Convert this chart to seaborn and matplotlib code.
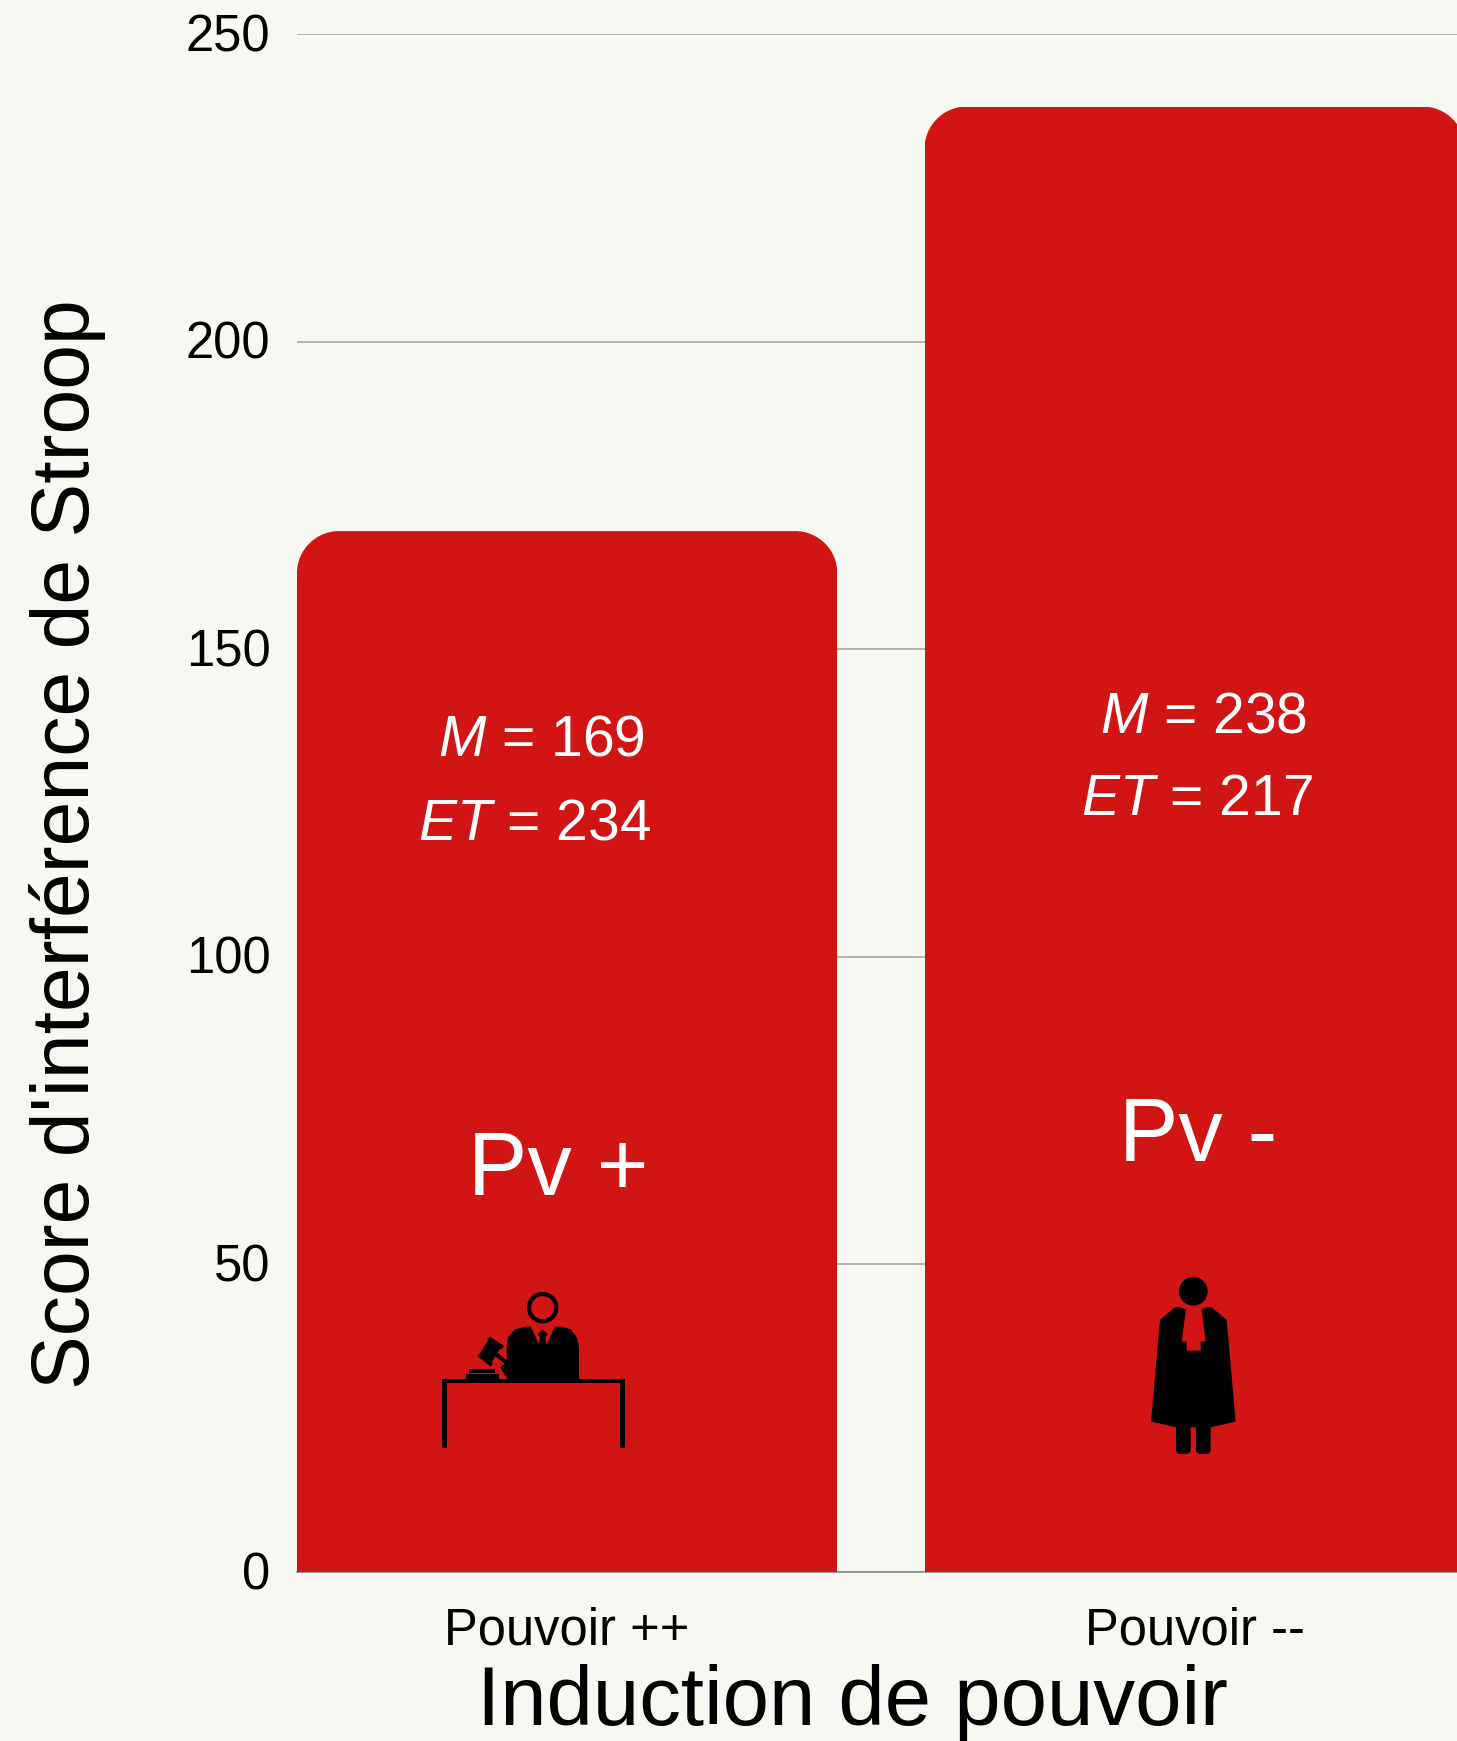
import matplotlib
matplotlib.use("Agg")
import matplotlib.pyplot as plt
import seaborn as sns
import pandas as pd
from matplotlib.patches import Circle, Polygon, FancyBboxPatch
from matplotlib.path import Path
from matplotlib.transforms import Affine2D, ScaledTranslation

# ---- data
conditions = ["Pouvoir ++", "Pouvoir --"]
bar_values = [169.2, 238.2]
mean_labels = [169, 238]
sd_labels = [234, 217]
short_labels = ["Pv +", "Pv -"]
y_ticks = [0, 50, 100, 150, 200, 250]
x_title = "Induction de pouvoir"
y_title = "Score d'interférence de Stroop"

BG = "#F8F8F3"
RED = "#D11515"
GRID = "#B5B5AE"
INK = "#000000"
W, H = 1457, 1741

sns.set_theme(style="whitegrid")
plt.rcParams["font.family"] = ["Liberation Sans", "DejaVu Sans"]
plt.rcParams["mathtext.fontset"] = "custom"
plt.rcParams["mathtext.it"] = "Liberation Sans:italic"
plt.rcParams["mathtext.rm"] = "Liberation Sans"
plt.rcParams["mathtext.default"] = "regular"

fig = plt.figure(figsize=(W / 100, H / 100), dpi=100, facecolor=BG)
ax = fig.add_axes([297 / W, 1 - 1572 / H, 1160 / W, (1572 - 34) / H], facecolor=BG)

df = pd.DataFrame({"cond": conditions, "score": bar_values})
sns.barplot(data=df, x="cond", y="score", color=RED, saturation=1, width=0.861, ax=ax, zorder=3)
ax.set_xlim(-0.4305, 1.4180)
ax.set_ylim(0, 250)
ax.set_yticks(y_ticks)
ax.grid(axis="x", visible=False)
ax.grid(axis="y", color=GRID, lw=1.4)
ax.set_axisbelow(True)
for name, s in ax.spines.items():
    s.set_visible(name == "bottom")
ax.spines["bottom"].set_color("#8A8A85")
ax.spines["bottom"].set_linewidth(1.2)
ax.spines["bottom"].set_zorder(2.5)
ax.tick_params(axis="both", length=0, labelsize=36.5, labelcolor=INK)
ax.tick_params(axis="x", pad=24.5)
ax.tick_params(axis="y", pad=19)
ax.set_xlabel("")
ax.set_ylabel("")
for lab in ax.get_yticklabels():
    lab.set_transform(lab.get_transform() + ScaledTranslation(0, 2 / 100, fig.dpi_scale_trans))

# rounded top corners, applied as clip on each seaborn bar
rx = 42 / 627.5
ry = 42 / (1538 / 250)
for bar in ax.patches:
    x0, w, h = bar.get_x(), bar.get_width(), bar.get_height()
    x1 = x0 + w
    k = 0.45
    verts = [(x0, 0), (x0, h - ry), (x0, h - ry * k), (x0 + rx * k, h), (x0 + rx, h),
             (x1 - rx, h), (x1 - rx * k, h), (x1, h - ry * k), (x1, h - ry), (x1, 0), (x0, 0)]
    codes = [Path.MOVETO, Path.LINETO, Path.CURVE4, Path.CURVE4, Path.CURVE4,
             Path.LINETO, Path.CURVE4, Path.CURVE4, Path.CURVE4, Path.LINETO, Path.CLOSEPOLY]
    bar.set_clip_path(Path(verts, codes), ax.transData)
    bar.set_linewidth(0)

px = Affine2D().scale(1, -1).translate(0, H)  # reference pixels -> display


def ptext(x, y, s, size, color="white", **kw):
    fig.text(x / W, 1 - y / H, s, fontsize=size, color=color, ha="center", va="center", **kw)


ptext(67.5, 844, y_title, 58, color=INK, rotation=90)
ptext(852, 1703, x_title, 60, color=INK)

stat_x = [(541, 535), (1203.5, 1196.5)]
stat_y = [(740.5, 824), (717.5, 800)]
pv_xy = [(558, 1172), (1198, 1138)]
for i in range(2):
    ptext(stat_x[i][0], stat_y[i][0], rf"$\mathit{{M}}$ = {mean_labels[i]}", 41)
    ptext(stat_x[i][1], stat_y[i][1], rf"$\mathit{{ET}}$ = {sd_labels[i]}", 41)
    ptext(pv_xy[i][0], pv_xy[i][1], short_labels[i], 64)


def add(p):
    p.set_transform(px)
    p.set_clip_on(False)
    p.set_zorder(5)
    fig.add_artist(p)


# ---- judge icon (zoom-crop coordinates, 3x, origin 400,1250)
def j(pts):
    return [(400 + a / 3, 1250 + b / 3) for a, b in pts]


K = "black"
add(Circle((400 + 428 / 3, 1250 + 173 / 3), 41 / 3, fc="none", ec=K, lw=3.0))
torso = j([(320, 387), (320, 290), (325, 260), (345, 238), (375, 230), (392, 230), (418, 285), (428, 290),
           (440, 285), (464, 230), (485, 230), (512, 238), (530, 262), (537, 290), (537, 387)])
add(Polygon(torso, closed=True, fc=K, ec="none"))
add(Polygon(j([(428, 238), (443, 252), (436, 262), (440, 290), (416, 290), (420, 262), (413, 252)]), closed=True, fc=K, ec="none"))
add(Polygon(j([(126, 595), (126, 387), (675, 387), (675, 595), (661, 595), (661, 400), (140, 400), (140, 595)]), closed=True, fc=K, ec="none"))
add(Polygon(j([(232, 318), (240, 310), (264, 272), (262, 268), (270, 260), (312, 288), (305, 298), (300, 296),
               (276, 336), (278, 342), (272, 350)]), closed=True, fc=K, ec="none"))
add(Polygon(j([(285, 318), (292, 308), (332, 340), (325, 350)]), closed=True, fc=K, ec="none"))
add(Polygon(j([(300, 352), (318, 338), (332, 345), (318, 352), (330, 378), (318, 380)]), closed=True, fc=K, ec="none"))
add(Polygon(j([(197, 387), (197, 372), (297, 372), (297, 387)]), closed=True, fc=K, ec="none"))
add(Polygon(j([(208, 368), (208, 358), (285, 358), (285, 368)]), closed=True, fc=K, ec="none"))


# ---- lawyer icon (zoom-crop coordinates, 3x, origin 1100,1250)
def l(pts):
    return [(1100 + a / 3, 1250 + b / 3) for a, b in pts]


add(Circle((1100 + 280 / 3, 1250 + 124 / 3), 43 / 3, fc=K, ec="none"))
robe = l([(153, 515), (180, 210), (225, 172), (238, 171), (258, 178), (245, 275), (260, 275), (260, 302), (302, 302),
          (302, 275), (317, 275), (305, 178), (322, 171), (335, 172), (380, 210), (407, 515), (332, 532), (228, 532)])
add(Polygon(robe, closed=True, fc=K, ec="none"))
for a, b in [(228, 272), (288, 332)]:
    (xa, ya), (xb, yb) = l([(a + 14, 525), (b - 14, 598)])
    add(FancyBboxPatch((xa, ya), xb - xa, yb - ya, boxstyle="round,pad=4.7,rounding_size=4.7", fc=K, ec="none"))

fig.savefig("out.png", dpi=100, facecolor=BG)
